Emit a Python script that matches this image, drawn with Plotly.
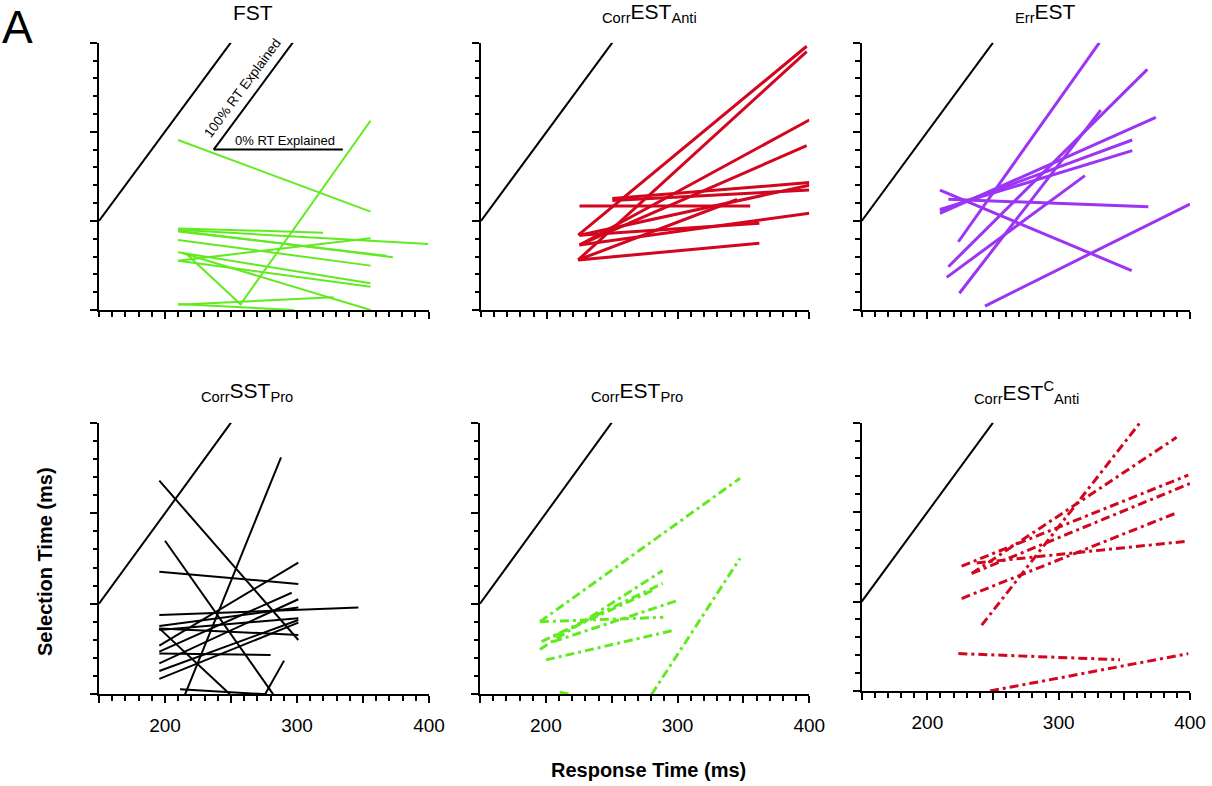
import plotly.graph_objects as go

W, H = 1212, 786

# ---------------- data (ms) ----------------
X_TICKS = [150, 200, 250, 300, 350, 400]
X_TICK_TEXT = ["", "200", "", "300", "", "400"]
Y_TICKS = [0, 50, 100, 150]

REF_X = [150, 250]          # 100% RT explained reference line
REF_Y = [50, 150]
LEG100_X = [237, 297]       # legend glyph in FST panel
LEG100_Y = [90, 150]
LEG0_X = [237, 335]
LEG0_Y = [90, 90]

# each segment: (x_start, y_start, x_end, y_end)
FST = [
    (210, 95.4, 356, 55.2),
    (257, 2.8, 356, 106.2),
    (210, 45.8, 320, 43.4),
    (210, 45.0, 400, 37.0),
    (210, 44.5, 373, 29.6),
    (210, 44.0, 368, 30.5),
    (210, 39.3, 356, 24.9),
    (210, 32.4, 356, 15.0),
    (210, 27.7, 356, 13.1),
    (213, 32.0, 356, 0.0),
    (217, 31.0, 258, 2.8),
    (210, 27.7, 356, 40.2),
    (210, 3.0, 328, 7.1),
    (210, 3.4, 298, 0.0),
]

CORR_EST_ANTI = [
    (224, 42.0, 398, 148.0),
    (224, 28.1, 398, 145.0),
    (225, 58.4, 355, 58.4),
    (250, 62.5, 400, 71.5),
    (250, 61.5, 400, 67.3),
    (225, 36.5, 400, 106.6),
    (225, 36.5, 398, 92.2),
    (224, 28.1, 345, 62.0),
    (224, 28.1, 362, 37.4),
    (225, 42.0, 362, 48.7),
    (225, 36.5, 400, 54.3),
    (225, 42.0, 400, 70.0),
]

ERR_EST = [
    (223.6, 38.3, 331, 150.0),
    (216, 24.3, 367.5, 135.0),
    (214.7, 18.3, 320, 75.4),
    (224.4, 9.4, 332, 112.2),
    (209.6, 67.3, 355.6, 22.1),
    (216, 62.1, 368.3, 58.0),
    (243.9, 2.2, 400, 59.5),
    (209.6, 54.2, 374, 108.1),
    (209.6, 55.7, 356, 95.4),
    (209.6, 56.5, 356, 89.4),
]

CORR_SST_PRO = [
    (195.7, 118.0, 301, 30.0),
    (195.7, 67.7, 301, 60.9),
    (195.7, 43.8, 346.5, 47.9),
    (195.7, 37.7, 301, 47.9),
    (195.7, 36.4, 301, 32.8),
    (195.7, 35.5, 301, 42.0),
    (195.7, 26.9, 301, 72.7),
    (195.7, 23.6, 296, 56.1),
    (195.7, 17.1, 301, 52.5),
    (195.7, 12.9, 301, 41.0),
    (195.7, 8.5, 301, 39.6),
    (195.7, 22.6, 280, 21.7),
    (287.9, 130.9, 215.2, 0.0),
    (200, 84.8, 282, 0.0),
    (195.7, 36.4, 249.2, 0.0),
    (211.4, 2.8, 277, 0.0),
    (275.8, 0.0, 290.2, 18.6),
]

CORR_EST_PRO = [
    (195.5, 40.1, 347.4, 119.3),
    (195.5, 24.8, 288.7, 68.3),
    (196.8, 29.1, 288.7, 61.3),
    (205.7, 31.8, 281.6, 57.6),
    (195.5, 40.1, 289.2, 42.5),
    (205.7, 29.1, 301.3, 52.1),
    (200.1, 19.0, 296.3, 35.2),
    (280.3, 0.0, 347.4, 75.1),
    (210.5, 1.2, 218, 0.0),
]

CORR_EST_C_ANTI = [
    (241.4, 36.8, 361.9, 150.0),
    (233.8, 65.7, 389.8, 141.8),
    (226.1, 69.8, 398.7, 120.7),
    (233.8, 65.7, 400, 116.0),
    (226.1, 51.7, 389.8, 99.6),
    (237.6, 71.6, 398.7, 83.8),
    (223.6, 20.9, 346.7, 17.5),
    (247.7, 0.0, 398.7, 20.9),
]

GREEN = "#62ea20"
RED = "#d2061e"
PURPLE = "#9b35f3"
BLACK = "#000000"
DASHDOT = "9px,4px,3px,4px"

FONT = "Liberation Sans, Arial, Helvetica, sans-serif"

panels = [
    dict(title="FST", segs=FST, color=GREEN, width=2, dash="solid",
         dx=(99, 428.5), dy=(42.7, 310), labels=False, tx=253),
    dict(title="<sub>Corr</sub>EST<sub>Anti</sub>", segs=CORR_EST_ANTI, color=RED, width=3, dash="solid",
         dx=(481, 809.3), dy=(42.7, 310), labels=False, tx=649),
    dict(title="<sub>Err</sub>EST", segs=ERR_EST, color=PURPLE, width=3, dash="solid",
         dx=(861.7, 1190), dy=(42.7, 310), labels=False, tx=1045),
    dict(title="<sub>Corr</sub>SST<sub>Pro</sub>", segs=CORR_SST_PRO, color=BLACK, width=2, dash="solid",
         dx=(99, 429), dy=(422.7, 694.3), labels=True, tx=247),
    dict(title="<sub>Corr</sub>EST<sub>Pro</sub>", segs=CORR_EST_PRO, color=GREEN, width=3, dash=DASHDOT,
         dx=(480, 809.3), dy=(422.7, 694.3), labels=True, tx=637),
    dict(title="<sub>Corr</sub>EST<sup>C</sup><sub>Anti</sub>", segs=CORR_EST_C_ANTI, color=RED, width=3,
         dash=DASHDOT, dx=(861.7, 1190), dy=(422.7, 691), labels=True, tx=1026),
]

fig = go.Figure()
annotations = []
layout = {}

for i, p in enumerate(panels, start=1):
    xa = "x" if i == 1 else f"x{i}"
    ya = "y" if i == 1 else f"y{i}"
    xkey = "xaxis" if i == 1 else f"xaxis{i}"
    ykey = "yaxis" if i == 1 else f"yaxis{i}"

    fig.add_trace(go.Scatter(x=REF_X, y=REF_Y, mode="lines", xaxis=xa, yaxis=ya,
                             line=dict(color="black", width=2), showlegend=False, hoverinfo="skip"))
    for (x1, y1, x2, y2) in p["segs"]:
        fig.add_trace(go.Scatter(x=[x1, x2], y=[y1, y2], mode="lines", xaxis=xa, yaxis=ya,
                                 line=dict(color=p["color"], width=p["width"], dash=p["dash"]),
                                 showlegend=False, hoverinfo="skip"))

    x0, x1 = p["dx"]
    ytop, ybot = p["dy"]
    layout[xkey] = dict(
        domain=[x0 / W, x1 / W], anchor=ya, range=[150, 400], automargin=False,
        showline=True, linecolor="black", linewidth=2, showgrid=False, zeroline=False,
        tickmode="array", tickvals=X_TICKS, ticktext=X_TICK_TEXT,
        ticks="outside", ticklen=7, tickwidth=2, tickcolor="black",
        showticklabels=p["labels"], ticklabelstandoff=6,
        tickfont=dict(family=FONT, size=19, color="black"),
        minor=dict(tickmode="linear", tick0=150, dtick=10, ticks="outside", ticklen=4.5,
                   tickwidth=2, tickcolor="black", showgrid=False),
        fixedrange=True,
    )
    layout[ykey] = dict(
        domain=[1 - ybot / H, 1 - ytop / H], anchor=xa, range=[0, 150], automargin=False,
        showline=True, linecolor="black", linewidth=2, showgrid=False, zeroline=False,
        tickmode="array", tickvals=Y_TICKS,
        ticks="outside", ticklen=7, tickwidth=2, tickcolor="black",
        showticklabels=False,
        minor=dict(tickmode="linear", tick0=0, dtick=10, ticks="outside", ticklen=4.5,
                   tickwidth=2, tickcolor="black", showgrid=False),
        fixedrange=True,
    )

    ty = 12.5 if i <= 3 else 392
    annotations.append(dict(text=p["title"], x=p["tx"] / W, y=1 - ty / H,
                            xref="paper", yref="paper", xanchor="center", yanchor="middle",
                            showarrow=False, font=dict(family=FONT, size=21, color="black")))

fig.add_trace(go.Scatter(x=LEG100_X, y=LEG100_Y, mode="lines", xaxis="x", yaxis="y",
                         line=dict(color="black", width=2), showlegend=False, hoverinfo="skip"))
fig.add_trace(go.Scatter(x=LEG0_X, y=LEG0_Y, mode="lines", xaxis="x", yaxis="y",
                         line=dict(color="black", width=2), showlegend=False, hoverinfo="skip"))

annotations += [
    dict(text="100% RT Explained", x=258.5, y=124.5, xref="x", yref="y", showarrow=False,
         textangle=-53.5, font=dict(family=FONT, size=13.5, color="black")),
    dict(text="0% RT Explained", x=291, y=95.2, xref="x", yref="y", showarrow=False,
         font=dict(family=FONT, size=13, color="black")),
    dict(text="A", x=0, y=1 - 27 / H, xref="paper", yref="paper", xanchor="left", yanchor="middle",
         showarrow=False, font=dict(family=FONT, size=46, color="black")),
    dict(text="<b>Selection Time (ms)</b>", x=45 / W, y=1 - 562 / H, xref="paper", yref="paper",
         textangle=-90, showarrow=False, xanchor="center", yanchor="middle",
         font=dict(family=FONT, size=20, color="black")),
    dict(text="<b>Response Time (ms)</b>", x=648 / W, y=1 - 770 / H, xref="paper", yref="paper",
         showarrow=False, xanchor="center", yanchor="middle",
         font=dict(family=FONT, size=20, color="black")),
]

fig.update_layout(
    width=W, height=H,
    margin=dict(l=0, r=0, t=0, b=0, autoexpand=False),
    paper_bgcolor="white", plot_bgcolor="white",
    showlegend=False,
    annotations=annotations,
    **layout,
)

fig.write_html("out.html", config={"displayModeBar": False, "responsive": False})

# remove default page margins so the 1212x786 figure fills the window exactly
with open("out.html", "r", encoding="utf-8") as f:
    html = f.read()
html = html.replace("<head>", "<head><style>html,body{margin:0;padding:0;overflow:hidden;}</style>", 1)
with open("out.html", "w", encoding="utf-8") as f:
    f.write(html)
